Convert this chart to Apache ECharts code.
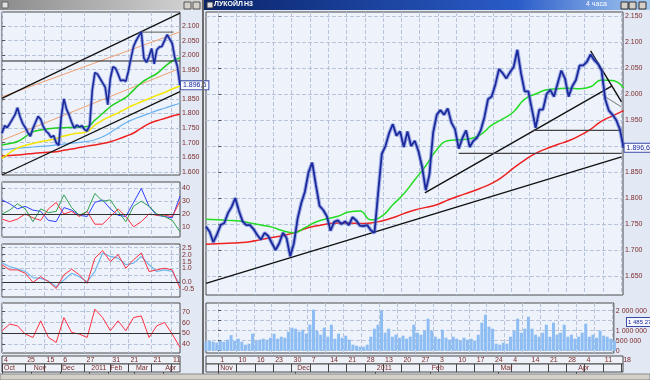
<!DOCTYPE html>
<html><head><meta charset="utf-8">
<script src="https://cdn.jsdelivr.net/npm/echarts@6/dist/echarts.min.js"></script>
<style>html,body{margin:0;padding:0;background:#e3e9f4}#c{width:650px;height:380px}</style>
</head><body><div id="c"></div><script>
// ---------- DATA ----------
// Right window (4h chart), x in "weeks" from Nov 1
const rPrice = [1745,1735,1715,1730,1748,1752,1771,1783,1800,1775,
 1755,1748,1748,1740,1729,1720,1733,1727,1713,1700,
 1713,1733,1723,1688,1713,1760,1790,1812,1850,1868,
 1825,1785,1777,1765,1737,1754,1757,1750,1755,1748,
 1763,1757,1747,1746,1748,1738,1733,1810,1885,1900,
 1925,1942,1920,1928,1898,1928,1900,1910,1890,1860,
 1815,1845,1925,1960,1969,1960,1972,1945,1932,1895,
 1915,1930,1898,1910,1916,1930,1955,1990,1995,2018,
 2048,2040,2030,2042,2052,2085,2040,2005,2005,1970,
 1935,1970,1970,2000,2008,1995,2020,2045,2030,1995,
 2015,2027,2055,2055,2062,2076,2065,2058,2045,1990,
 1968,1960,1950,1932,1896.6];
const rGreen = [1759,1758,1757,1756,1752,1748,1744,1737,1733,1743,1754,1760,1765,1773,1775,1758,1765,1787,1808,1835,1862,1893,1910,1912,1914,1922,1940,1952,1966,1990,2000,2008,2010,2011,2010,2014,2027,2026,2012];
const rRed = [1711,1712,1713,1714,1716,1720,1724,1728,1733,1741,1746,1750,1752,1752,1751,1752,1756,1762,1770,1777,1782,1787,1796,1804,1811,1819,1828,1841,1858,1873,1886,1895,1903,1910,1920,1932,1948,1958,1968];
const rVolume = [450,500,450,400,500,450,550,780,500,600,
 450,300,350,850,500,550,600,550,650,850,
 600,700,650,950,1150,1100,950,1050,850,1300,
 2050,1000,800,1150,700,1300,600,850,650,750,
 550,300,250,200,200,300,700,1100,1300,2000,
 900,1100,700,800,650,750,600,700,1300,900,
 800,1000,1600,1000,700,600,1050,650,550,700,
 600,500,650,550,600,500,800,1400,1800,1200,
 1100,350,300,400,350,700,1000,1600,900,1100,
 1700,1100,800,700,900,1300,700,1400,800,900,
 1300,700,800,600,700,900,1350,700,800,650,
 1000,750,700,600,500].map(v => v * 1000);
const rSupportLong = [[-0.67, 1636], [22.02, 1879]];
const rSupportShort = [[11.28, 1810], [21.48, 2015]];
const rResistance = [[20.33, 2083], [22.02, 1985]];
const rChannelGray = [[20.98, 1998], [22.02, 1975]];
const rLevelHigh = [[17.17, 1930], [22.02, 1930]];
const rLevelLow = [[13.13, 1886], [22.02, 1886]];
const rDayLabels = ['1','10','16','23','30','7','14','21','28','13','20','27','3','10','17','24','4','14','21','28','4','11','18'];
const rDayTicks = rDayLabels.map((_, i) => i);
const rMonthLabels = ['Nov','Dec','2011','Feb','Mar','Apr'];
const rMonthTicks = [0, 4.2, 8.55, 11.55, 15.3, 19.55];
const rPriceTicks = [1650,1700,1750,1800,1850,1900,1950,2000,2050,2100,2150];
const rPriceLabels = [1650,1700,1750,1800,1850,1950,2000,2050,2100,2150];
const rVolTicks = [0,500000,1000000,1500000,2000000];
const rVolLabels = [0,500000,1000000,2000000];

// Left window (daily chart), x in trading days from Oct 1
const lPrice = [1732,1758,1752,1765,1780,1795,1820,1789,1766,1752,
 1735,1722,1749,1770,1790,1780,1755,1740,1732,1718,
 1724,1700,1690,1790,1850,1815,1795,1770,1750,1760,
 1754,1758,1745,1740,1760,1880,1940,1935,1920,1905,
 1890,1830,1920,1960,1955,1935,1912,1915,1910,1945,
 1990,2030,2050,2065,2080,1990,1975,1995,2023,1970,
 2018,2028,2030,2050,2070,2055,2040,1990,1960,1896.6];
const lGreen = [1692,1697,1704,1720,1737,1743,1748,1750,1751,1752,1753,1755,1777,1800,1823,1840,1855,1880,1905,1922,1937,1960,1980,1990];
const lYellow = [1646,1665,1681,1690,1697,1703,1708,1714,1723,1729,1733,1738,1760,1777,1790,1802,1816,1829,1840,1851,1862,1872,1884,1894];
const lBlue = [1675,1678,1681,1683,1685,1687,1689,1692,1695,1698,1701,1704,1710,1720,1735,1752,1768,1780,1790,1800,1810,1818,1827,1835];
const lRed = [1654,1656,1658,1660,1663,1665,1667,1669,1674,1678,1683,1688,1692,1697,1703,1712,1722,1733,1750,1765,1775,1783,1791,1797];
const lChannelUp = [[0, 1852], [138, 2144]];
const lChannelDown = [[0, 1589], [138, 1875]];
const lRegUp = [[0, 1857], [138, 2080]];
const lRegDown = [[0, 1708], [138, 1955]];
const lLevel = [[0, 1980], [138, 1980]];
const lTopLevel = [[108, 2079], [133, 2079]];
const adxBlue = [31,28,24,26,23,22,15,14,25,23,19,18,29,31,24,19,18,29,40,26,19,18,17,34];
const adxRed = [16,14,16,20,17,15,24,29,20,22,18,22,12,12,18,24,18,10,14,20,19,19,18,30];
const adxGreen = [20,23,28,24,14,24,21,22,35,25,19,22,36,30,31,22,14,26,30,26,20,18,15,6];
const macdRed = [1.27,0.9,0.9,0.66,0,0.41,0.05,-0.44,0.54,0.95,0.54,-0.07,1.75,2.29,1.51,2.0,1.02,1.63,2.12,0.78,0.9,1.02,0.9,-0.44];
const macdBlue = [1.39,1.14,0.97,0.78,0.34,0.29,0.1,-0.32,0.17,0.66,0.41,0.05,0.78,2.12,1.87,1.75,1.27,1.39,1.87,1.27,0.78,0.9,0.78,-0.19];
const rsi = [52.5,58.6,57,49.4,46.3,61.6,46.3,41.7,64.6,50.9,49.4,46.3,72.3,64.6,52.5,61.6,52.5,64.6,66.1,46.3,57,60.1,49.4,37.2];
const lDayLabels = ['4','25','15','6','27','31','21','21','11'];
const lDayTicks = [0,18,33,46,64,84,98,116,131];
const lMonthLabels = ['Oct','Nov','Dec','2011','Feb','Mar','Apr'];
const lMonthTicks = [0,23,45,67.7,82.4,102.3,125];
const lPriceTicks = [1600,1650,1700,1750,1800,1850,1900,1950,2000,2050,2100];
const lPriceLabels = [1600,1650,1700,1750,1800,1850,1950,2000,2050,2100];

// ---------- HELPERS ----------
const LBL = '#7a2a2a', FONT = 'Liberation Sans', GRIDC = '#b7c4da';
const fmtPrice = v => { const t = Math.floor(v / 1000); return t + '.' + String(Math.round(v - t * 1000)).padStart(3, '0'); };
const fmtLast = v => { const t = Math.floor(v / 1000); return t + '.' + (v - t * 1000).toFixed(1).replace('.', ',').padStart(5, '0'); };
const fmtVol = v => String(v).replace(/\B(?=(\d{3})+(?!\d))/g, ' ');

const R0 = -0.67, RMAX = 22.1, LMAX = 138;
const rP = rPrice.map((v, i) => [R0 + 0.2 * i, v]);
const rMA = a => a.map((v, k) => [R0 + 0.6 * k, v]);
const lP = lPrice.map((v, j) => [2 * j, v]);
const l6 = a => a.map((v, m) => [6 * m, v]);

function grid(left, top, width, height, bg) {
  return { left, top, width, height, show: true, backgroundColor: bg || '#eef3fb', borderColor: '#4a4a4a', borderWidth: 1, containLabel: false };
}
function xAx(gi, min, max, ticks) {
  return { type: 'value', gridIndex: gi, min, max, axisLine: { show: false },
    axisTick: { show: false, customValues: ticks }, axisLabel: { show: false },
    splitLine: { show: true, lineStyle: { color: GRIDC, type: 'dashed', width: 1 } } };
}
function yAx(gi, min, max, ticks, labels, fmt) {
  return { type: 'value', gridIndex: gi, position: 'right', min, max, axisLine: { show: false },
    axisTick: { show: true, length: 3, customValues: ticks, lineStyle: { color: '#555' } },
    axisLabel: { customValues: labels, fontSize: 7, color: LBL, margin: 2, fontFamily: FONT, formatter: fmt },
    splitLine: { show: true, lineStyle: { color: GRIDC, type: 'dashed', width: 1 } } };
}
function rowX(gi, min, max, ticks, labels) {
  return { type: 'value', gridIndex: gi, position: 'top', min, max, axisLine: { show: false },
    axisTick: { show: true, inside: true, length: 8, customValues: ticks, lineStyle: { color: '#444' } },
    axisLabel: { show: true, inside: true, customValues: ticks, margin: 0, align: 'left', verticalAlign: 'top',
      padding: [1, 0, 0, 2], fontSize: 7, color: LBL, fontFamily: FONT, formatter: v => labels[ticks.indexOf(v)] },
    splitLine: { show: false } };
}
function rowY(gi) { return { type: 'value', gridIndex: gi, show: false, min: 0, max: 1 }; }
function line(ai, data, color, width, extra) {
  return Object.assign({ type: 'line', xAxisIndex: ai, yAxisIndex: ai, data, symbol: 'none',
    lineStyle: { color, width }, itemStyle: { color }, silent: true }, extra || {});
}
function ref(ai, data, value) {
  return line(ai, data, 'transparent', 0, { markLine: { silent: true, symbol: 'none', label: { show: false },
    lineStyle: { color: '#333', width: 1, type: 'solid' }, data: [{ yAxis: value }] } });
}
const lastLabel = color => ({ show: true, formatter: p => fmtLast(p.value[1]), fontSize: 7, fontFamily: FONT,
  color: '#1a2a9c', backgroundColor: '#f6f8fd', borderColor: '#3a4aa8', borderWidth: 1, padding: [1, 2, 0, 2], distance: 1 });

const option = {
  backgroundColor: '#e3e9f4',
  animation: false,
  grid: [
    grid(2, 12, 178, 163), grid(2, 182, 178, 55), grid(2, 244, 178, 53), grid(2, 303, 178, 50),
    grid(2, 356, 178, 8, '#eef2f8'), grid(2, 364, 178, 8, '#eef2f8'),
    grid(206, 12, 417, 283), grid(206, 303, 417, 50),
    grid(206, 356, 417, 8, '#eef2f8'), grid(206, 364, 417, 8, '#eef2f8')
  ],
  xAxis: [
    xAx(0, 0, LMAX, lDayTicks), xAx(1, 0, LMAX, lDayTicks), xAx(2, 0, LMAX, lDayTicks), xAx(3, 0, LMAX, lDayTicks),
    rowX(4, 0, LMAX, lDayTicks, lDayLabels), rowX(5, 0, LMAX, lMonthTicks, lMonthLabels),
    xAx(6, R0, RMAX, rDayTicks), xAx(7, R0, RMAX, rDayTicks),
    rowX(8, R0, RMAX, rDayTicks, rDayLabels), rowX(9, R0, RMAX, rMonthTicks, rMonthLabels)
  ],
  yAxis: [
    yAx(0, 1589, 2148, lPriceTicks, lPriceLabels, fmtPrice),
    yAx(1, 2, 45, [10, 20, 30, 40], [10, 20, 30, 40], v => String(v)),
    yAx(2, -1.06, 2.77, [-0.5, 0, 0.5, 1, 1.5, 2, 2.5], [-0.5, 0, 1, 1.5, 2, 2.5], v => v.toFixed(1)),
    yAx(3, 32, 78, [40, 50, 60, 70], [40, 50, 60, 70], v => String(v)),
    rowY(4), rowY(5),
    yAx(6, 1613.5, 2157.7, rPriceTicks, rPriceLabels, fmtPrice),
    yAx(7, -115000, 2385000, rVolTicks, rVolLabels, fmtVol),
    rowY(8), rowY(9)
  ],
  series: [
    // left main
    line(0, lRegUp, '#f0a070', 1), line(0, lRegDown, '#f0a070', 1),
    line(0, l6(lRed), '#ee2020', 1.5, { smooth: true }),
    line(0, l6(lBlue), '#66b0f0', 1.2, { smooth: true }),
    line(0, l6(lYellow), '#f5e600', 1.5, { smooth: true }),
    line(0, l6(lGreen), '#20d020', 1.5, { smooth: true }),
    line(0, lChannelUp, '#111', 1.3), line(0, lChannelDown, '#111', 1.3),
    line(0, lLevel, '#222', 1), line(0, lTopLevel, '#555', 1),
    line(0, lP, 'rgba(90,110,210,0.5)', 3.5),
    line(0, lP, '#1a2a9c', 1.6, { endLabel: lastLabel() }),
    // ADX
    ref(1, [[0, 20], [LMAX, 20]], 20),
    line(1, l6(adxBlue), '#3040ff', 1), line(1, l6(adxRed), '#ff3040', 1), line(1, l6(adxGreen), '#30a050', 1),
    // MACD
    ref(2, [[0, 0], [LMAX, 0]], 0),
    line(2, l6(macdBlue), '#70b8f0', 1.2), line(2, l6(macdRed), '#ff3040', 1),
    // RSI
    ref(3, [[0, 50], [LMAX, 50]], 50),
    line(3, l6(rsi), '#ff3040', 1),
    // right main
    line(6, rMA(rRed), '#ee2020', 1.5, { smooth: true }),
    line(6, rMA(rGreen), '#22dd22', 1.5, { smooth: true }),
    line(6, rSupportLong, '#111', 1.4), line(6, rSupportShort, '#111', 1.4),
    line(6, rResistance, '#111', 1.4), line(6, rChannelGray, '#777', 1),
    line(6, rLevelHigh, '#444', 1.2), line(6, rLevelLow, '#444', 1.2),
    line(6, rP, 'rgba(90,110,210,0.5)', 4),
    line(6, rP, '#1a2a9c', 1.8, { endLabel: lastLabel() }),
    // volume
    { type: 'bar', xAxisIndex: 7, yAxisIndex: 7, data: rVolume.map((v, i) => [R0 + 0.2 * i, v]),
      barWidth: 3, itemStyle: { color: '#8dbdf2' }, silent: true }
  ],
  graphic: [
    { type: 'rect', z: 10, shape: { x: 0, y: 0, width: 203, height: 10 },
      style: { fill: new echarts.graphic.LinearGradient(0, 0, 1, 0, [{ offset: 0, color: '#8c8c8c' }, { offset: 1, color: '#d6d6d6' }]) } },
    { type: 'rect', z: 10, shape: { x: 204, y: 0, width: 446, height: 10 },
      style: { fill: new echarts.graphic.LinearGradient(0, 0, 1, 0, [{ offset: 0, color: '#0a246a' }, { offset: 0.7, color: '#2a5cc8' }, { offset: 1, color: '#a6caf0' }]) } },
    { type: 'text', z: 11, left: 214, top: 1, style: { text: 'ЛУКОЙЛ', fill: '#fff', font: 'bold 7px "Liberation Sans"' } },
    { type: 'text', z: 11, left: 244, top: 1, style: { text: 'Н3', fill: '#fff', font: 'bold 7px "Liberation Sans"' } },
    { type: 'text', z: 11, left: 586, top: 1, style: { text: '4 часа', fill: '#fff', font: '7px "Liberation Sans"' } },
    { type: 'rect', z: 11, shape: { x: 2, y: 2, width: 6, height: 6 }, style: { fill: '#e0e0e0', stroke: '#666' } },
    { type: 'rect', z: 11, shape: { x: 207, y: 2, width: 6, height: 6 }, style: { fill: '#e0e0e0', stroke: '#334' } },
    { type: 'rect', z: 11, shape: { x: 184, y: 2, width: 7, height: 7 }, style: { fill: '#d4d0c8', stroke: '#555' } },
    { type: 'rect', z: 11, shape: { x: 193, y: 2, width: 7, height: 7 }, style: { fill: '#d4d0c8', stroke: '#555' } },
    { type: 'rect', z: 11, shape: { x: 621, y: 2, width: 7, height: 7 }, style: { fill: '#d4d0c8', stroke: '#333' } },
    { type: 'rect', z: 11, shape: { x: 629, y: 2, width: 7, height: 7 }, style: { fill: '#d4d0c8', stroke: '#333' } },
    { type: 'rect', z: 11, shape: { x: 639, y: 2, width: 7, height: 7 }, style: { fill: '#d4d0c8', stroke: '#333' } },
    { type: 'rect', z: 10, shape: { x: 202, y: 0, width: 2, height: 380 }, style: { fill: '#6c6c6c' } },
    { type: 'rect', z: 10, shape: { x: 0, y: 374, width: 650, height: 6 }, style: { fill: '#d4d0c8', stroke: '#888' } },
    { type: 'text', z: 11, left: 626, top: 317, style: { text: '1 485 271', fill: '#1a2a9c', font: '6px "Liberation Sans"', backgroundColor: '#f6f8fd', borderColor: '#3a4aa8', borderWidth: 1, padding: [1, 1] } }
  ]
};
const chart = echarts.init(document.getElementById('c'), null, { renderer: 'canvas' });
chart.setOption(option);
</script></body></html>
